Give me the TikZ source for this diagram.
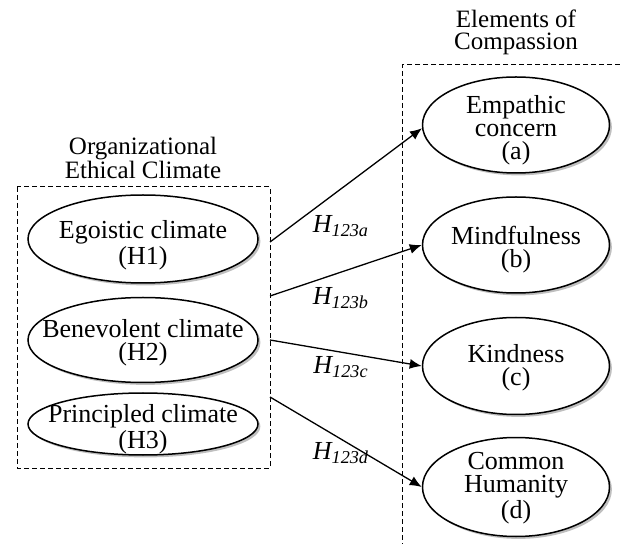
\documentclass[tikz,border=0pt]{standalone}
\usepackage{fontspec}
\setmainfont{Liberation Serif}
\usetikzlibrary{shapes.geometric,shadows,arrows.meta}
\begin{document}
\begin{tikzpicture}[x=0.5pt,y=-0.5pt,
  ell/.style={ellipse,draw,line width=0.75pt,fill=white,inner sep=0pt,
    drop shadow={shadow xshift=1.2pt,shadow yshift=-1.2pt,fill=black,opacity=0.25}},
  elltext/.style={align=center,inner sep=0pt,font=\fontsize{13}{11.5}\selectfont},
  title/.style={align=center,inner sep=0pt,font=\fontsize{12.5}{11}\selectfont},
  dbox/.style={draw,dash pattern=on 2.5pt off 1.5pt,line width=0.5pt},
  conn/.style={line width=0.65pt,-{Latex[length=6pt,width=5pt]}},
  hlab/.style={inner sep=0pt,font=\fontsize{13}{13}\selectfont\itshape}]
\useasboundingbox (0,0) rectangle (620,544);
% titles
\node[title] (ltitle) at (143,158) {Organizational\\Ethical Climate};
\node[title] (rtitle) at (516,32) {Elements of\\Compassion};
% boxes
\draw[dbox] (17,187) rectangle (270,468);
\draw[dbox] (620,65) -| (402,544);
% left ellipses
\node[ell,minimum width=115pt,minimum height=44pt] (e1) at (143,239) {};
\node[elltext] (t1) at (143,245) {Egoistic climate\\(H1)};
\node[ell,minimum width=115pt,minimum height=42.5pt] (e2) at (143,340) {};
\node[elltext] (t2) at (143,343) {Benevolent climate\\(H2)};
\node[ell,minimum width=115pt,minimum height=31pt] (e3) at (143,424) {};
\node[elltext] (t3) at (143,429) {Principled climate\\(H3)};
% right ellipses
\node[ell,minimum width=93.5pt,minimum height=48pt] (ea) at (516,125) {};
\node[elltext] (ta) at (516,130) {Empathic\\concern\\(a)};
\node[ell,minimum width=93.5pt,minimum height=48pt] (eb) at (516,245) {};
\node[elltext] (tb) at (516,250) {Mindfulness\\(b)};
\node[ell,minimum width=93.5pt,minimum height=48.5pt] (ec) at (516,366) {};
\node[elltext] (tc) at (516,368) {Kindness\\(c)};
\node[ell,minimum width=93.5pt,minimum height=49.5pt] (ed) at (516,487) {};
\node[elltext] (td) at (516,488) {Common\\Humanity\\(d)};
% connectors
\coordinate (sa) at (270,242);
\coordinate (sb) at (270,296);
\coordinate (sc) at (270,340);
\coordinate (sd) at (270,397);
\draw[conn] (sa) -- (ea.182);
\draw[conn] (sb) -- (eb.west);
\draw[conn] (sc) -- (ec.west);
\draw[conn] (sd) -- (ed.west);
% labels
\node[hlab] (ha) at (341,226) {H\textsubscript{123a}};
\node[hlab] (hb) at (341,298) {H\textsubscript{123b}};
\node[hlab] (hc) at (341,367) {H\textsubscript{123c}};
\node[hlab] (hd) at (341,453) {H\textsubscript{123d}};
\end{tikzpicture}
\end{document}
